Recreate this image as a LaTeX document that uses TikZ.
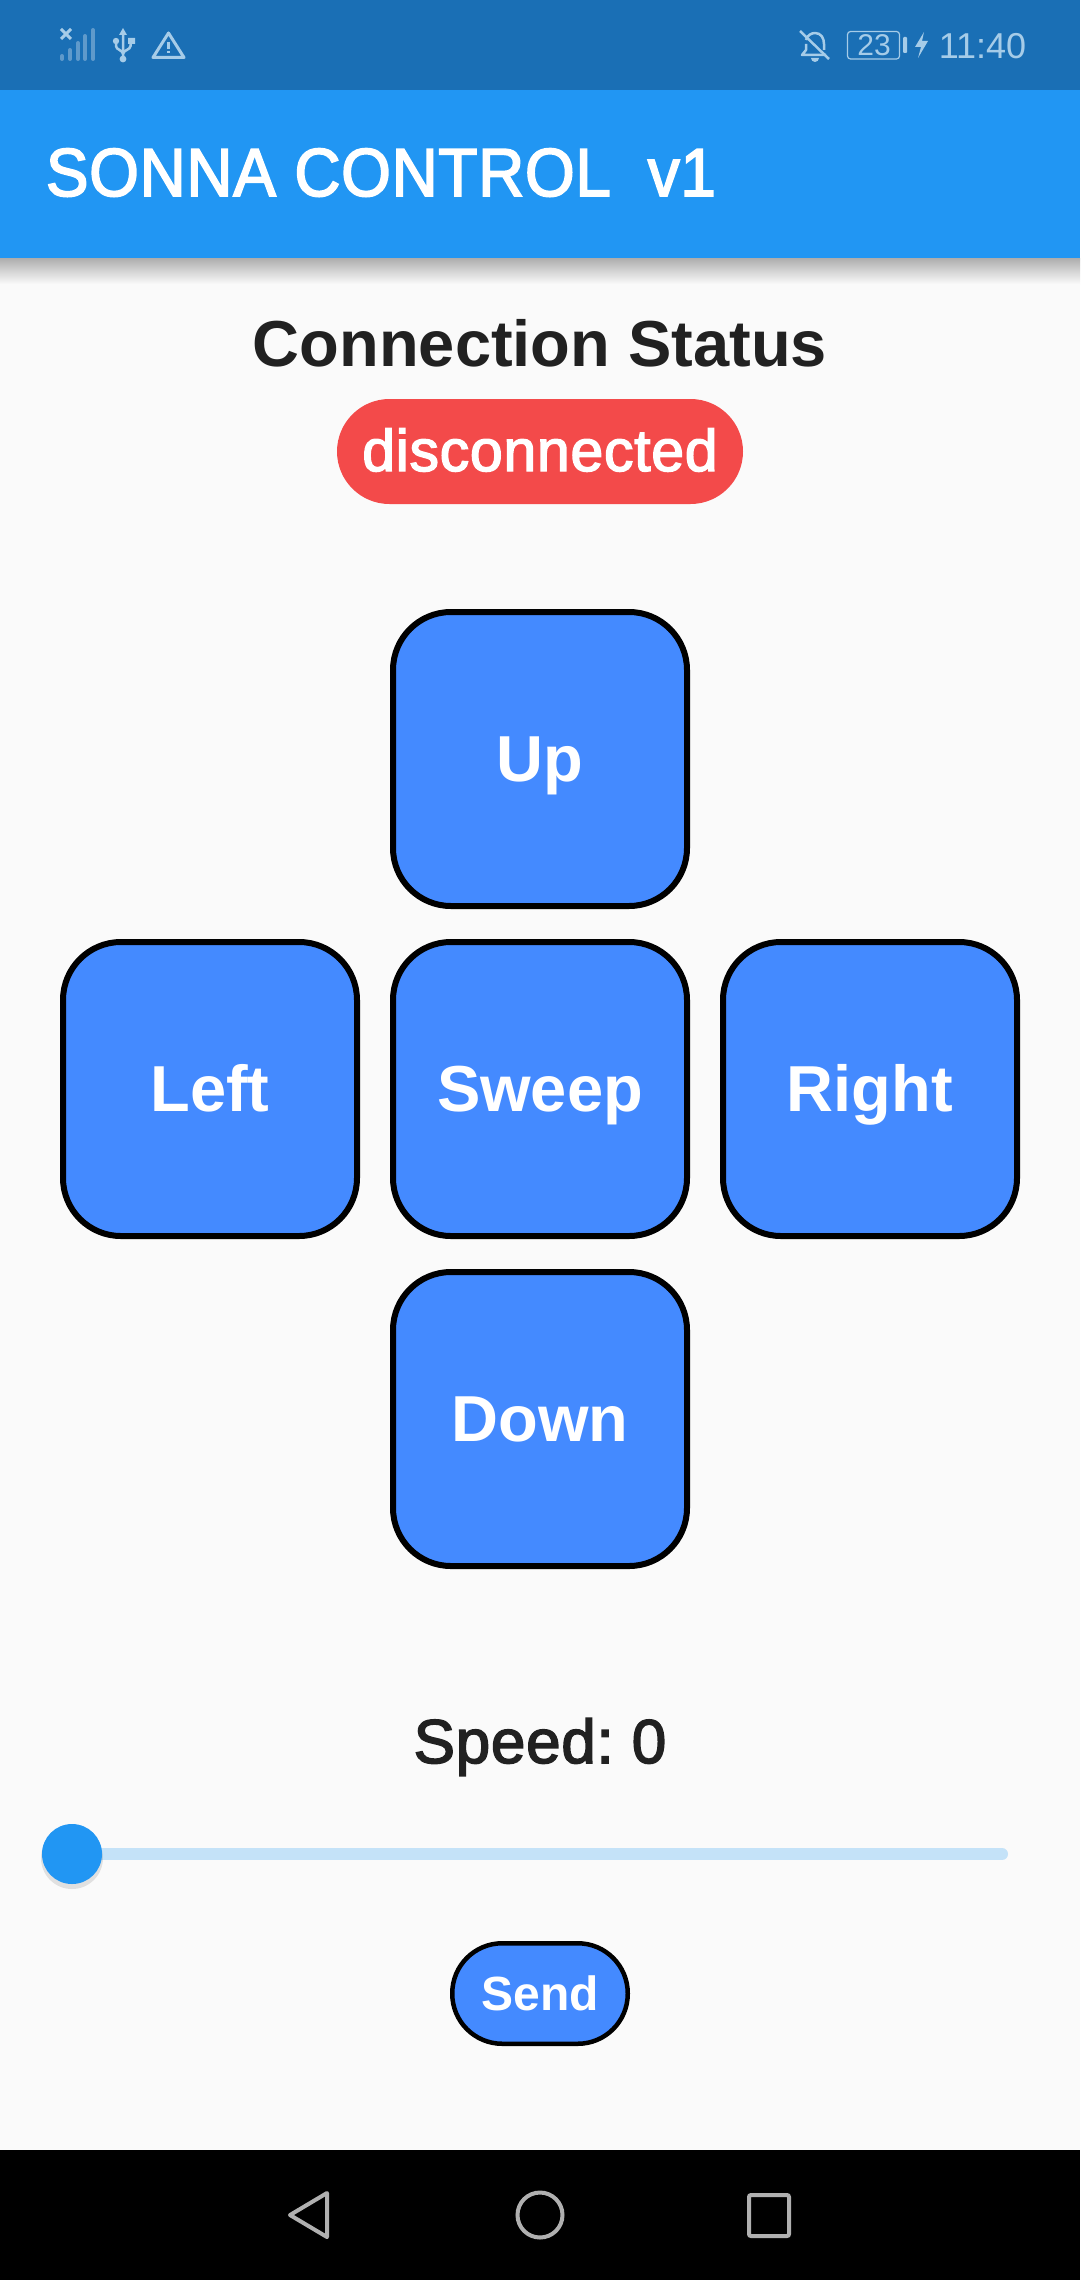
\documentclass[tikz,border=0pt]{standalone}
\usepackage{fontspec}
\setmainfont{Liberation Sans}
\newfontfamily\medfont[FakeBold=2.5,LetterSpace=1.2]{Liberation Sans}
\newfontfamily\titlefont[FakeBold=2.5,FakeStretch=.94,LetterSpace=1]{Liberation Sans}
\usepackage{xcolor}
\usetikzlibrary{positioning}
\definecolor{barblue}{HTML}{1A6FB5}
\definecolor{appblue}{HTML}{2196F3}
\definecolor{pagegray}{HTML}{FAFAFA}
\definecolor{btnblue}{HTML}{448AFF}
\definecolor{pillred}{HTML}{F34A4A}
\definecolor{trackblue}{HTML}{C4E2F8}
\definecolor{iconblue}{HTML}{A6CCE8}
\definecolor{navgray}{HTML}{B0B0B0}
\definecolor{inkdark}{HTML}{212121}
\newcommand{\fsz}[1]{\fontsize{#1}{#1}\selectfont}
\frenchspacing
\begin{document}
\begin{tikzpicture}[x=1pt,y=-1pt,
padbtn/.style={draw=black,fill=btnblue,line width=6pt,rounded corners=58pt,minimum width=294pt,minimum height=294pt,inner sep=0pt,text=white,text height=45pt,text depth=0pt,font=\fsz{65}\bfseries},
label/.style={anchor=base,inner sep=0pt}]
\useasboundingbox (0,0) rectangle (1080,2280);
\fill[pagegray] (0,0) rectangle (1080,2280);
% bars
\shade[top color=black!32,middle color=black!7,bottom color=pagegray] (0,258) rectangle (1080,284);
\fill[appblue] (0,90) rectangle (1080,258);
\fill[barblue] (0,0) rectangle (1080,90);
\fill[black] (0,2150) rectangle (1080,2280);
\node[label,text=white,font=\fsz{68}\titlefont] (title) at (381,196) {SONNA CONTROL\ \ v1};
% status bar, left
\foreach \x/\t in {62/54,70/48,78/41,85/34,93/28}
\draw[barblue!70!white,line width=4pt,line cap=round] (\x,\t+2) -- (\x,59);
\draw[iconblue,line width=3pt] (61,29) -- (71,39) (71,29) -- (61,39);
\draw[iconblue,line width=2.5pt] (123,34) -- (123,59) (116,41) -- (116,46) .. controls (116,50) and (123,50) .. (123,54) (130.5,41) -- (130.5,46) .. controls (130.5,50) and (123,50) .. (123,54);
\fill[iconblue] (123,28) -- (127,35) -- (119,35) -- cycle;
\fill[iconblue] (123,59) circle (3.4) (116,41) circle (3.2) (128,38) rectangle (135,44);
\draw[iconblue,line width=3pt,line join=round] (168.5,33) -- (184,57.5) -- (153,57.5) -- cycle;
\draw[iconblue,line width=2.5pt] (168.5,42) -- (168.5,49) (168.5,51) -- (168.5,53.5);
% status bar, right
\draw[iconblue,line width=2.5pt,line join=round] (806,40) .. controls (807,35) and (812,33) .. (815,33) .. controls (821,33) and (824,38) .. (824,44) -- (824,50) (809,55) -- (802,55) -- (806,50) -- (806,44) (809,55) -- (826,55);
\fill[iconblue] (811,58) arc (180:0:4) -- cycle;
\draw[iconblue,line width=2.5pt] (800,31) -- (829,59);
\draw[iconblue,line width=1.2pt,rounded corners=3pt] (847.5,31.5) rectangle (899.5,59);
\node[text=iconblue,font=\fsz{30},inner sep=0pt] (batlevel) at (874,45.5) {23};
\fill[iconblue,rounded corners=1pt] (903,37) rectangle (907,53);
\fill[iconblue] (924,32) -- (915,47) -- (921,47) -- (918,58) -- (928,41) -- (922,41) -- cycle;
\node[label,text=iconblue,font=\fsz{36}] (clock) at (982.5,59) {11:40};
% status text
\node[label,text=inkdark,font=\fsz{65}\bfseries] (statuslabel) at (540,366) {Connection Status};
\fill[pillred] (337,399) [rounded corners=52.5pt] rectangle (743,504);
\node[label,text=white,font=\fsz{59}\medfont] (statusvalue) at (540,471) {disconnected};
% direction pad
\node[padbtn] (up) at (540,759) {Up};
\node[padbtn] (sweep) at (540,1089) {Sweep};
\node[padbtn] (left) at (210,1089) {Left};
\node[padbtn] (right) at (870,1089) {Right};
\node[padbtn] (down) at (540,1419) {Down};
% speed
\node[label,text=inkdark,font=\fsz{62}\medfont] (speed) at (540,1763) {Speed: 0};
\draw[trackblue,line width=12pt,line cap=round] (102,1854) -- (1002,1854);
\fill[black,opacity=.1] (72,1858) circle (31);
\fill[appblue] (72,1854) circle (30);
\node[draw=black,fill=btnblue,line width=4.5pt,rounded corners=50pt,minimum width=175.5pt,minimum height=100.5pt,inner sep=0pt,text=white,font=\fsz{48}\bfseries] (send) at (540,1993.5) {Send};
% nav bar
\draw[navgray,line width=4pt,line join=round] (327,2193) -- (290,2215) -- (327,2237) -- cycle;
\draw[navgray,line width=4pt] (540,2215) circle (22.5);
\draw[navgray,line width=4pt,rounded corners=2pt] (749,2195) rectangle (789,2236);
\end{tikzpicture}
\end{document}
